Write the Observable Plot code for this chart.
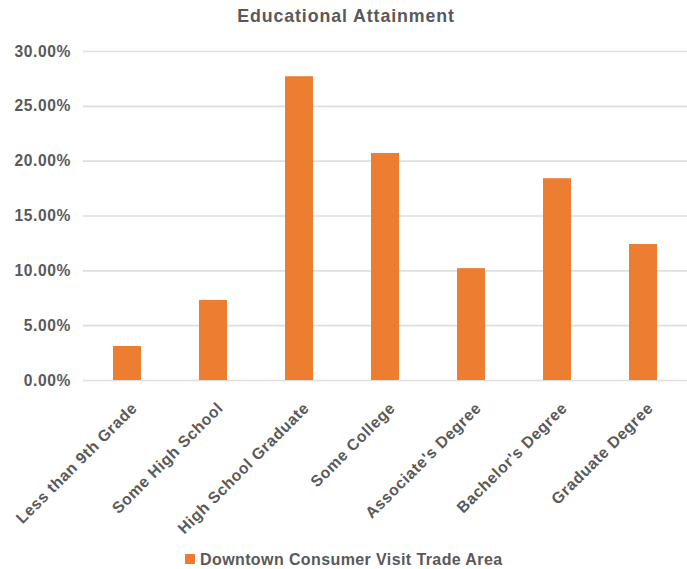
<!DOCTYPE html>
<html>
<head>
<meta charset="utf-8">
<script src="https://cdn.jsdelivr.net/npm/d3@7"></script>
<script src="https://cdn.jsdelivr.net/npm/@observablehq/plot@0.6"></script>
<style>
  body { margin: 0; background: #fff; font-family: "Liberation Sans", Arial, sans-serif; }
  #wrap { position: relative; width: 687px; height: 569px; overflow: hidden; }
  #title { position: absolute; left: 0; top: 7.5px; width: 692px; text-align: center;
    font-size: 17.8px; line-height: 17.8px; font-weight: bold; color: #595959; letter-spacing: 0.9px; }
  #legend { position: absolute; left: 185px; top: 551.5px; height: 16px; white-space: nowrap;
    font-size: 16px; line-height: 16px; font-weight: bold; color: #595959; letter-spacing: 0.4px; }
  #legend .sw { display: inline-block; width: 10px; height: 10px; background: #ED7D31;
    position: absolute; left: 0; top: 2px; }
  #legend .lbl { position: absolute; left: 15px; top: 0; }
  #chart { position: absolute; left: 0; top: 0; }
</style>
</head>
<body>
<div id="wrap">
  <div id="chart"></div>
  <div id="title">Educational Attainment</div>
  <div id="legend"><span class="sw"></span><span class="lbl">Downtown Consumer Visit Trade Area</span></div>
</div>
<script>
const categories = ["Less than 9th Grade", "Some High School", "High School Graduate", "Some College", "Associate's Degree", "Bachelor's Degree", "Graduate Degree"];
const values = [0.031, 0.073, 0.277, 0.207, 0.102, 0.184, 0.124];
const yTicks = [0, 0.05, 0.10, 0.15, 0.20, 0.25, 0.30];
const seriesName = "Downtown Consumer Visit Trade Area";

const data = categories.map((c, i) => ({category: c, value: values[i]}));
const textColor = "#595959";

const chart = Plot.plot({
  width: 687,
  height: 569,
  marginLeft: 83,
  marginRight: 0,
  marginTop: 51,
  marginBottom: 189,
  style: {fontFamily: "'Liberation Sans', Arial, sans-serif", letterSpacing: "0.6px", background: "white", overflow: "visible"},
  x: {domain: categories, paddingInner: 0.676, paddingOuter: 0.338, axis: null},
  y: {domain: [0, 0.30], axis: null},
  marks: [
    Plot.gridY(yTicks, {stroke: "#dedede", strokeOpacity: 1, strokeWidth: 1.6}),
    Plot.barY(data, {x: "category", y: "value", fill: "#ED7D31"}),
    Plot.axisY(yTicks, {
      tickSize: 0, tickPadding: 12.5,
      tickFormat: d => (d * 100).toFixed(2) + "%",
      fontSize: 15.6, fontWeight: "bold", fill: textColor, label: null
    }),
    Plot.text(categories, {
      x: d => d, frameAnchor: "bottom", rotate: -45,
      textAnchor: "end", lineAnchor: "middle",
      dx: 7, dy: 25,
      fontSize: 15.8, fontWeight: "bold", fill: textColor
    })
  ]
});
document.getElementById("chart").appendChild(chart);
</script>
</body>
</html>
